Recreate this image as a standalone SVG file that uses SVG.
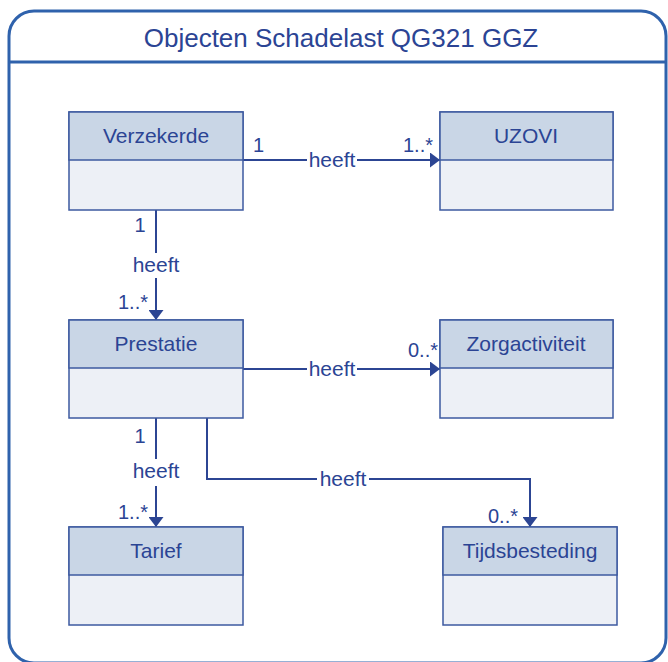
<svg xmlns="http://www.w3.org/2000/svg" width="668" height="662" viewBox="0 0 668 662">
<style>
.frame{fill:#fff;stroke:#2f62ac;stroke-width:3}
.hd{fill:#c9d6e6;stroke:#3d5aa0;stroke-width:1.5}
.bd{fill:#edf0f6;stroke:#3d5aa0;stroke-width:1.5}
.t{font-family:"Liberation Sans",Arial,sans-serif;fill:#2b4494}
.lbl{font-size:21px;text-anchor:middle}
.m{font-size:20px}
.ln{fill:none;stroke:#2c4593;stroke-width:2}
.bg{fill:#fff}
</style>
<defs>
<marker id="ah" viewBox="0 0 10 15" refX="10" refY="7.5" markerWidth="10" markerHeight="15" markerUnits="userSpaceOnUse" orient="auto">
<path d="M0,0 L10,7.5 L0,15 Z" fill="#2c4593"/>
</marker>
</defs>
<g id="frame">
<rect class="frame" x="9" y="11" width="657" height="652" rx="25"/>
<line x1="9" y1="62" x2="666" y2="62" stroke="#2f62ac" stroke-width="3"/>
<text class="t" x="341" y="47" font-size="26" text-anchor="middle">Objecten Schadelast QG321 GGZ</text>
</g>
<g id="connectors">
<line class="ln" x1="243" y1="160" x2="440" y2="160" marker-end="url(#ah)"/>
<rect class="bg" x="307" y="150" width="50" height="20"/>
<text class="t lbl" x="332" y="167">heeft</text>
<text class="t m" x="253" y="152">1</text>
<text class="t m" x="433" y="152" text-anchor="end">1..*</text>

<line class="ln" x1="156" y1="210" x2="156" y2="320" marker-end="url(#ah)"/>
<rect class="bg" x="129" y="253" width="54" height="25"/>
<text class="t lbl" x="156" y="272">heeft</text>
<text class="t m" x="140" y="232" text-anchor="middle">1</text>
<text class="t m" x="148" y="309" text-anchor="end">1..*</text>

<line class="ln" x1="243" y1="369" x2="440" y2="369" marker-end="url(#ah)"/>
<rect class="bg" x="307" y="359" width="50" height="20"/>
<text class="t lbl" x="332" y="376">heeft</text>
<text class="t m" x="438" y="357" text-anchor="end">0..*</text>

<line class="ln" x1="156" y1="418" x2="156" y2="527" marker-end="url(#ah)"/>
<rect class="bg" x="129" y="459" width="54" height="27"/>
<text class="t lbl" x="156" y="478">heeft</text>
<text class="t m" x="140" y="443" text-anchor="middle">1</text>
<text class="t m" x="148" y="519" text-anchor="end">1..*</text>

<polyline class="ln" points="207,418 207,479 530,479 530,527" marker-end="url(#ah)"/>
<rect class="bg" x="317" y="469" width="52" height="20"/>
<text class="t lbl" x="343" y="486">heeft</text>
<text class="t m" x="518" y="523" text-anchor="end">0..*</text>
</g>
<g id="Verzekerde">
<rect class="bd" x="69" y="112" width="174" height="98"/>
<rect class="hd" x="69" y="112" width="174" height="48"/>
<text class="t lbl" x="156" y="143">Verzekerde</text>
</g>
<g id="UZOVI">
<rect class="bd" x="440" y="112" width="173" height="98"/>
<rect class="hd" x="440" y="112" width="173" height="48"/>
<text class="t lbl" x="526" y="143">UZOVI</text>
</g>
<g id="Prestatie">
<rect class="bd" x="69" y="320" width="174" height="98"/>
<rect class="hd" x="69" y="320" width="174" height="48"/>
<text class="t lbl" x="156" y="351">Prestatie</text>
</g>
<g id="Zorgactiviteit">
<rect class="bd" x="440" y="320" width="173" height="98"/>
<rect class="hd" x="440" y="320" width="173" height="48"/>
<text class="t lbl" x="526" y="351">Zorgactiviteit</text>
</g>
<g id="Tarief">
<rect class="bd" x="69" y="527" width="174" height="98"/>
<rect class="hd" x="69" y="527" width="174" height="48"/>
<text class="t lbl" x="156" y="558">Tarief</text>
</g>
<g id="Tijdsbesteding">
<rect class="bd" x="443" y="527" width="174" height="98"/>
<rect class="hd" x="443" y="527" width="174" height="48"/>
<text class="t lbl" x="530" y="558">Tijdsbesteding</text>
</g>
</svg>
